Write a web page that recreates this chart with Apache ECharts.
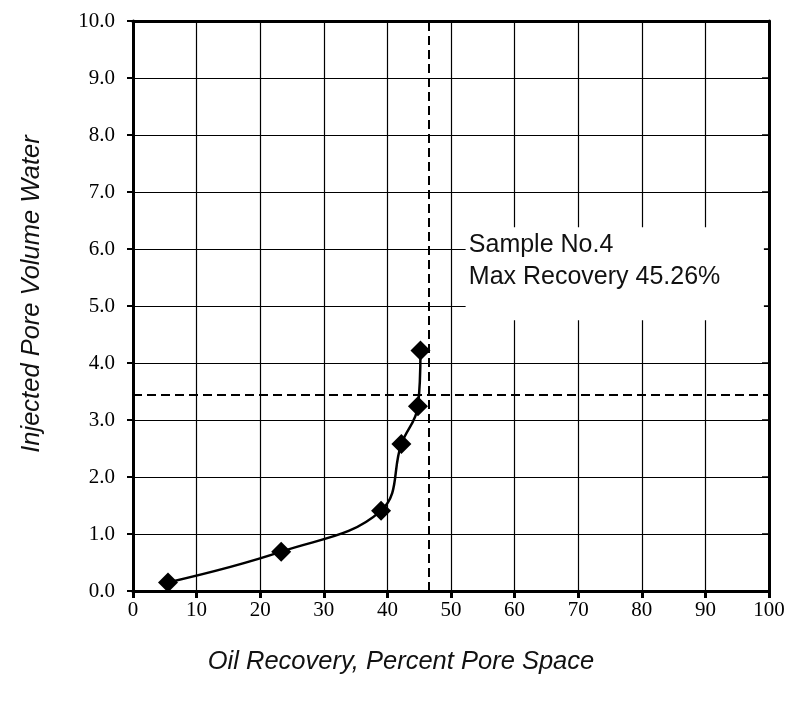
<!DOCTYPE html>
<html><head><meta charset="utf-8">
<script src="https://cdn.jsdelivr.net/npm/echarts@6/dist/echarts.min.js"></script>
<style>html,body{margin:0;padding:0;background:#fff}#c{width:793px;height:707px}</style>
</head><body><div id="c"></div>
<script>
// Data
var oilRecovery = [5.5, 23.3, 39.0, 42.2, 44.8, 45.2];
var injectedPV = [0.15, 0.69, 1.41, 2.58, 3.24, 4.22];
var maxRecoveryX = 46.5;      // vertical dashed line position (% pore space)
var breakthroughY = 3.45;     // horizontal dashed line position (PV)
var noteLines = ['Sample No.4', 'Max Recovery 45.26%'];
var noteAnchor = [52.8, 5.79];
var noteBox = [[52.3, 6.38], [99.2, 4.75]];
var xTitle = 'Oil Recovery, Percent Pore Space';
var yTitle = 'Injected Pore Volume Water';

var pts = oilRecovery.map(function (x, i) { return [x, injectedPV[i]]; });
var chart = echarts.init(document.getElementById('c'));
var serif = 'Liberation Serif';
var sans = 'Liberation Sans';
chart.setOption({
  animation: false,
  backgroundColor: '#fff',
  grid: { left: 133, right: 24, top: 21, bottom: 116 },
  xAxis: [{
    type: 'value', min: 0, max: 100, interval: 10,
    name: xTitle, nameLocation: 'middle', nameGap: 58,
    nameTextStyle: { fontFamily: sans, fontStyle: 'italic', fontSize: 25.5, color: '#111', padding: [0, 100, 0, 0] },
    axisLine: { lineStyle: { color: '#000', width: 3 } },
    axisTick: { show: true, length: 7, lineStyle: { color: '#000', width: 3 } },
    axisLabel: { fontFamily: serif, fontSize: 21, color: '#000', margin: 9 },
    splitLine: { lineStyle: { color: '#000', width: 1.2 } }
  }, {
    type: 'value', min: 0, max: 100, interval: 10, position: 'top',
    axisLine: { show: true, onZero: false, lineStyle: { color: '#000', width: 3 } },
    axisTick: { show: false }, axisLabel: { show: false }, splitLine: { show: false }
  }],
  yAxis: [{
    type: 'value', min: 0, max: 10, interval: 1,
    name: yTitle, nameLocation: 'middle', nameGap: 88, nameRotate: 90,
    nameTextStyle: { fontFamily: sans, fontStyle: 'italic', fontSize: 25.5, color: '#111', padding: [0, 0, 0, 24] },
    axisLine: { show: true, lineStyle: { color: '#000', width: 3 } },
    axisTick: { show: true, length: 6, lineStyle: { color: '#000', width: 2 } },
    axisLabel: { fontFamily: serif, fontSize: 21, color: '#000', margin: 18,
      formatter: function (v) { return v.toFixed(1); } },
    splitLine: { lineStyle: { color: '#000', width: 1.2 } }
  }, {
    type: 'value', min: 0, max: 10, interval: 1, position: 'right',
    axisLine: { show: true, onZero: false, lineStyle: { color: '#000', width: 3 } },
    axisTick: { show: true, inside: true, length: 7, lineStyle: { color: '#000', width: 1.5 } },
    axisLabel: { show: false }, splitLine: { show: false }
  }],
  series: [{
    type: 'line',
    data: pts,
    smooth: 0.4,
    symbol: 'diamond', symbolSize: 20,
    itemStyle: { color: '#000' },
    lineStyle: { color: '#000', width: 2.5 },
    z: 5,
    markArea: {
      silent: true,
      itemStyle: { color: '#fff' },
      label: { show: false },
      data: [[{ coord: noteBox[0] }, { coord: noteBox[1] }]]
    },
    markPoint: {
      silent: true,
      symbol: 'rect', symbolSize: 0,
      label: {
        show: true, position: 'right', distance: 0, align: 'left',
        fontFamily: sans, fontSize: 25, lineHeight: 32, color: '#111',
        formatter: noteLines.join('\n')
      },
      data: [{ coord: noteAnchor }]
    },
    markLine: {
      silent: true, symbol: 'none',
      lineStyle: { color: '#000', type: [9, 5], width: 2 },
      label: { show: false },
      data: [{ xAxis: maxRecoveryX }, { yAxis: breakthroughY }]
    }
  }]
});
</script></body></html>
